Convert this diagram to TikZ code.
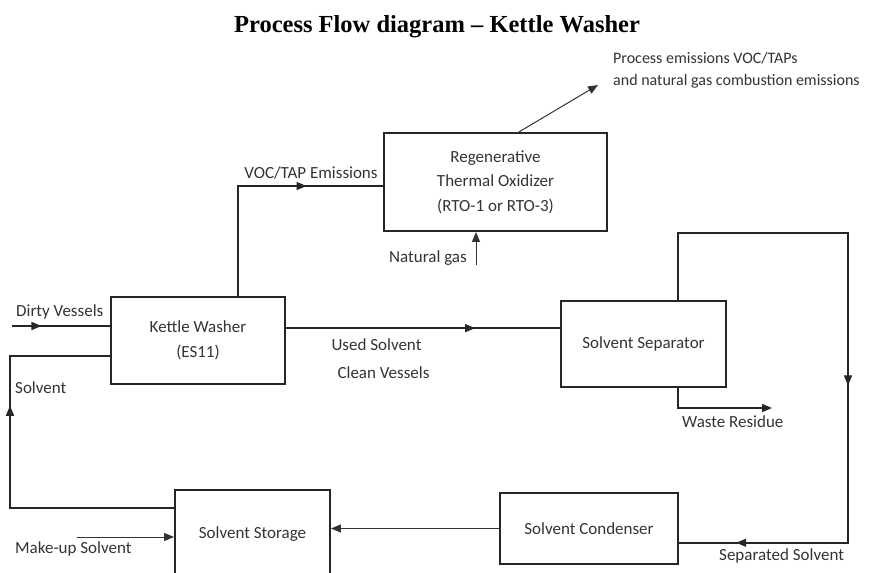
\documentclass[tikz,border=0pt]{standalone}
\usepackage{fontspec}
\setmainfont{Carlito}
\newfontfamily\titlefont[Ligatures=TeX]{Liberation Serif}
\usetikzlibrary{arrows.meta,decorations.markings}

\begin{document}
\begin{tikzpicture}[
  x=1pt, y=-1pt,
  unit/.style={draw=black!85, line width=1.9pt, rectangle, align=center, inner sep=0pt,
    text=black!80, font=\fontsize{17}{24.5}\selectfont},
  flowtext/.style={inner sep=0pt, text=black!80, font=\fontsize{17}{22}\selectfont},
  flow/.style={draw=black!85, line width=1.6pt},
  thinflow/.style={draw=black!80, line width=1pt},
  tip/.style={-{Triangle[length=10pt,width=8pt]}},
  midarrow/.style={postaction={decorate}, decoration={markings,
    mark=at position #1 with {\arrow{Triangle[length=10pt,width=8pt]}}}},
  twoarrows/.style 2 args={postaction={decorate}, decoration={markings,
    mark=at position #1 with {\arrow{Triangle[length=10pt,width=8pt]}},
    mark=at position #2 with {\arrow{Triangle[length=10pt,width=8pt]}}}}
  ]
  \useasboundingbox (0,0) rectangle (873,573);

  \node[anchor=base, font=\titlefont\bfseries\fontsize{24.5}{28}\selectfont] (title) at (437,32)
    {Process Flow diagram – Kettle Washer};

  \node[unit, minimum width=174pt, minimum height=87pt] (washer) at (198,340.5) {Kettle Washer\\(ES11)};
  \node[unit, minimum width=223pt, minimum height=98pt] (rto) at (495.5,182)
    {Regenerative\\Thermal Oxidizer\\(RTO-1 or RTO-3)};
  \node[unit, minimum width=165pt, minimum height=86pt] (sep) at (643.5,344) {Solvent Separator};
  \node[unit, minimum width=178pt, minimum height=71pt] (cond) at (589,528.5) {Solvent Condenser};
  \node[unit, minimum width=155pt, minimum height=88pt] (stor) at (252.5,534) {Solvent Storage};

  \coordinate (dvstart) at (12,326);
  \coordinate (solvcorner) at (10,508);
  \coordinate (solvtop) at (10,356);
  \coordinate (vocup) at (238,186);
  \coordinate (emtip) at (598,85);
  \coordinate (gasin) at (476,265);
  \coordinate (loopnw) at (678,233);
  \coordinate (loopne) at (848,233);
  \coordinate (wastecorner) at (678,408);
  \coordinate (wasteend) at (772,408);
  \coordinate (mkstart) at (77,537);

  \draw[flow, midarrow=0.3] (dvstart) -- (dvstart -| washer.west);
  \draw[flow, midarrow=0.64] (solvcorner -| stor.west) -- (solvcorner) -- (solvtop) -- (solvtop -| washer.west);
  \draw[flow, midarrow=0.7] (washer.north -| vocup) -- (vocup) -- (vocup -| rto.west);
  \draw[thinflow, tip] (rto.65) -- (emtip);
  \draw[thinflow, tip] (gasin) -- (gasin |- rto.south);
  \draw[flow, midarrow=0.69] (washer.8) -- (washer.8 -| sep.west);
  \draw[flow, twoarrows={0.544}{0.92}] (loopnw |- sep.north) -- (loopnw) -- (loopne) -- (loopne |- cond.-9) -- (cond.-9);
  \draw[flow, tip] (wastecorner |- sep.south) -- (wastecorner) -- (wasteend);
  \draw[thinflow, tip] (cond.west) -- (cond.west -| stor.east);
  \draw[thinflow, tip] (mkstart) -- (mkstart -| stor.west);

  \node[flowtext, anchor=west] (dvtext) at (16,312) {Dirty Vessels};
  \node[flowtext, anchor=west] (solvtext) at (15,388) {Solvent};
  \node[flowtext] (voctext) at (311,173) {VOC/TAP Emissions};
  \node[flowtext, anchor=west] (gastext) at (389,258) {Natural gas};
  \node[flowtext, anchor=west, align=left, font=\fontsize{16}{22}\selectfont] (emtext) at (613,70)
    {Process emissions VOC/TAPs\\and natural gas combustion emissions};
  \node[flowtext] (usedtext) at (376.5,345) {Used Solvent};
  \node[flowtext] (cleantext) at (383.5,373) {Clean Vessels};
  \node[flowtext, anchor=west] (wastetext) at (682,422) {Waste Residue};
  \node[flowtext, anchor=west] (septext) at (719,556) {Separated Solvent};
  \node[flowtext, anchor=west] (mktext) at (15,549) {Make-up Solvent};
\end{tikzpicture}
\end{document}
